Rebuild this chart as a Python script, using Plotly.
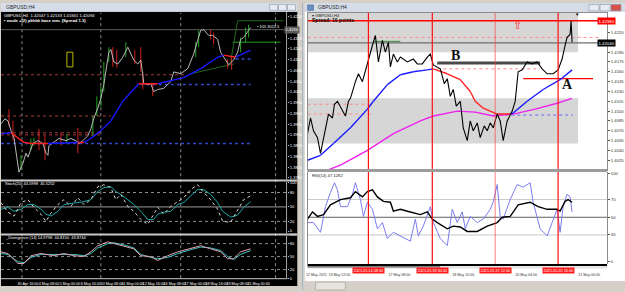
import plotly.graph_objects as go

W, H = 625, 292

# ======================= LEFT CHART : GBPUSD,H4 =======================
left_bar = [0, 4, 7, 10, 13, 17, 18, 22, 25, 27, 32, 37, 42, 45, 47, 48, 53, 58, 65, 70,
            75, 78, 82, 87, 90, 93, 97, 100, 103, 107, 108, 110, 113, 117, 122, 127, 130, 133, 137, 140,
            142, 143, 147, 150, 153, 157, 163, 170, 173, 180, 187, 190, 193, 197, 200, 203, 208, 212, 217, 220,
            223, 228, 233, 237, 240, 243, 248, 250]
left_close = [1.3931, 1.3945, 1.3939, 1.3912, 1.3892, 1.3821, 1.3796, 1.3821, 1.3849, 1.3838,
              1.3876, 1.3884, 1.3876, 1.3849, 1.3843, 1.3870, 1.3879, 1.3890, 1.3884, 1.3890,
              1.3884, 1.3876, 1.3884, 1.3898, 1.3917, 1.3947, 1.3975, 1.4002, 1.4041, 1.4104,
              1.4131, 1.4139, 1.4104, 1.4098, 1.4117, 1.4145, 1.4126, 1.4109, 1.4098, 1.4109,
              1.4068, 1.4043, 1.4041, 1.4043, 1.4021, 1.4027, 1.4030, 1.4049, 1.4076, 1.4071,
              1.4085, 1.4104, 1.4126, 1.4164, 1.4192, 1.4194, 1.4178, 1.4178, 1.4167, 1.4131,
              1.4117, 1.4096, 1.4109, 1.4131, 1.4167, 1.4172, 1.4192, 1.4200]

left_wick_bar = [8, 12, 38, 44, 60, 77, 112, 116, 134, 140, 142, 152, 210, 213, 227, 231,
                 20, 30, 33, 66, 92, 96, 100, 103, 108, 125, 195, 198, 240, 245, 248]
left_wick_high = [1.3972, 1.3939, 1.3917, 1.3898, 1.3906, 1.3920, 1.4145, 1.4137, 1.4137, 1.4145, 1.4076, 1.4043, 1.4194, 1.4186, 1.4112, 1.4117,
                  1.3843, 1.3890, 1.3892, 1.3903, 1.3953, 1.4008, 1.4035, 1.4104, 1.4145, 1.4159, 1.4159, 1.4192, 1.4172, 1.4200, 1.4208]
left_wick_low = [1.3925, 1.3884, 1.3857, 1.3829, 1.3870, 1.3849, 1.4090, 1.4087, 1.4098, 1.4076, 1.4027, 1.4008, 1.4167, 1.4153, 1.4085, 1.4082,
                 1.3802, 1.3857, 1.3870, 1.3876, 1.3898, 1.3953, 1.3980, 1.4021, 1.4104, 1.4117, 1.4117, 1.4145, 1.4131, 1.4159, 1.4172]
left_wick_dir = ['down'] * 16 + ['up'] * 15

left_ma_bar = [0, 10, 23, 30, 47, 77, 83, 90, 100, 110, 122, 138, 157, 183, 200, 217, 223, 235, 250]
left_ma = [1.3903, 1.3906, 1.3879, 1.3876, 1.3876, 1.3879, 1.3879, 1.3890, 1.3912, 1.3939,
           1.3994, 1.4043, 1.4043, 1.4060, 1.4085, 1.4117, 1.4123, 1.4117, 1.4137]
left_ma_trend = ['up', 'down', 'down', 'down', 'up', 'down', 'up', 'up', 'up', 'up', 'up', 'down',
                 'up', 'up', 'up', 'up', 'down', 'up']

left_level_price = [1.4194, 1.4068, 1.3953, 1.3906, 1.3900, 1.3876, 1.4041, 1.4112, 1.4159, 1.4219]
left_level_x0 = [0, 0, 0, 0, 0, 0, 140, 235, 232, 237]
left_level_x1 = [286, 185, 110, 100, 100, 250, 250, 250, 280, 283]
left_level_kind = ['current', 'sr', 'sr', 'sr', 'sr', 'ma_dot', 'ma_dot', 'ma_dot', 'target', 'trend']
left_trend_x = [[190, 233], [230, 237]]
left_trend_y = [[1.4071, 1.4098], [1.4104, 1.4219]]
left_box_x = [66, 72]
left_box_y = [1.4090, 1.4131]
left_day_sep = [21, 100, 180, 275]

left_price_ticks = [1.3780, 1.3810, 1.3840, 1.3870, 1.3900, 1.3930, 1.3960, 1.3990,
                    1.4020, 1.4050, 1.4080, 1.4110, 1.4140, 1.4170, 1.4230]

stoch_bar = [0, 7, 13, 20, 27, 33, 40, 45, 50, 57, 63, 70, 77, 83, 90, 97, 103, 110, 115, 120,
             127, 133, 140, 147, 153, 157, 163, 170, 177, 183, 190, 197, 203, 210, 217, 222, 230, 237, 243, 250]
stoch_k = [59, 39, 31, 59, 65, 49, 35, 20, 37, 55, 65, 51, 69, 55, 65, 92, 96, 90, 65, 76,
           51, 41, 24, 14, 35, 49, 35, 51, 61, 69, 86, 96, 80, 65, 45, 20, 18, 45, 65, 73]
stoch_d = [45, 49, 41, 45, 55, 55, 45, 35, 31, 41, 55, 57, 59, 61, 65, 82, 90, 92, 82, 76,
           65, 55, 41, 24, 24, 35, 39, 41, 55, 59, 73, 86, 86, 76, 59, 41, 29, 33, 49, 61]

div_bar = [0, 7, 17, 23, 30, 40, 53, 63, 73, 83, 90, 97, 107, 113, 123, 133, 140, 150, 157, 167,
           177, 190, 200, 210, 220, 227, 233, 240, 250]
div_a = [61, 57, 34, 34, 52, 57, 52, 57, 52, 50, 61, 75, 84, 80, 75, 68, 52, 50, 41, 52,
         61, 68, 75, 68, 61, 45, 45, 61, 68]
div_b = [57, 55, 38, 36, 48, 55, 55, 55, 55, 52, 57, 70, 80, 82, 77, 70, 55, 48, 45, 48,
         57, 66, 72, 70, 64, 50, 43, 55, 64]

left_time_pos = [6, 27, 48, 69, 90, 111, 132, 153, 174, 195, 216, 237, 258]
left_time_text = ['22 Apr 2021', '30 Apr 16:00', '4 May 08:00', '5 May 00:00', '6 May 16:00',
                  '10 May 08:00', '11 May 00:00', '12 May 16:00', '14 May 08:00', '17 May 00:00',
                  '18 May 16:00', '19 May 08:00', '21 May 00:00']

# ======================= RIGHT CHART : GBPUSD,H1 =======================
right_bar = [307, 310, 313, 317, 320, 322, 325, 328, 332, 334, 337, 341, 345, 348, 350, 355, 358, 362, 365, 368,
             372, 375, 378, 382, 385, 388, 390, 393, 397, 400, 407, 413, 417, 422, 427, 430, 433, 440, 444, 447,
             450, 453, 456, 460, 463, 467, 470, 473, 477, 480, 484, 487, 490, 493, 497, 500, 503, 507, 512, 515,
             518, 522, 527, 532, 537, 542, 547, 553, 558, 562, 565, 567, 570, 571, 572]
right_close = [1.40655, 1.40895, 1.4070, 1.40595, 1.40355, 1.40505, 1.40745, 1.40955, 1.40895, 1.41105,
               1.4115, 1.41045, 1.40925, 1.4115, 1.41195, 1.4145, 1.4157, 1.4145, 1.4160, 1.4178,
               1.42005, 1.42155, 1.4175, 1.4208, 1.4190, 1.4205, 1.41675, 1.4187, 1.4175, 1.41825,
               1.4175, 1.41795, 1.4172, 1.4172, 1.41825, 1.4187, 1.41705, 1.41645, 1.4142, 1.41495,
               1.41225, 1.4133, 1.41075, 1.4115, 1.40745, 1.4055, 1.4085, 1.4070, 1.4082, 1.40595,
               1.40775, 1.4070, 1.4082, 1.40745, 1.40955, 1.4085, 1.4055, 1.4085, 1.4100, 1.4115,
               1.4160, 1.4163, 1.4175, 1.4172, 1.4175, 1.41645, 1.4157, 1.4157, 1.4163, 1.41795,
               1.42005, 1.42125, 1.4217, 1.4238, 1.4205]

right_ma_bar = [307, 320, 333, 350, 367, 373, 387, 400, 413, 427, 433, 447, 460, 470, 475, 483,
                490, 497, 510, 513, 527, 543, 560, 572]
right_ma = [1.4025, 1.40325, 1.40505, 1.40745, 1.4103, 1.4115, 1.41405, 1.41555, 1.4160, 1.4163,
            1.41645, 1.4157, 1.4148, 1.4130, 1.4115, 1.41045, 1.4100, 1.40955, 1.40955, 1.4097,
            1.4115, 1.4133, 1.4148, 1.4163]
right_ma_trend = ['up'] * 10 + ['down'] * 8 + ['up'] * 5

right_ma2_bar = [327, 340, 367, 393, 420, 433, 457, 475, 493, 513, 535, 557, 572]
right_ma2 = [1.4010, 1.40175, 1.4040, 1.40655, 1.4085, 1.40925, 1.4100, 1.40985, 1.40925,
             1.40955, 1.4103, 1.4112, 1.41195]

right_level_price = [1.4238, 1.4204, 1.41735, 1.41495, 1.42065, 1.42125, 1.41645, 1.41105, 1.40955, 1.4094]
right_level_x0 = [307, 307, 437, 523, 373, 307, 437, 307, 307, 493]
right_level_x1 = [607, 607, 540, 593, 400, 600, 540, 370, 370, 573]
right_level_kind = ['high', 'current', 'B', 'A', 'target', 'sr_dot', 'sr_dot', 'sr_dot', 'sr_dot', 'ma_dot']

right_band_lo = [1.4190, 1.40505]
right_band_hi = [1.4250, 1.41195]
right_band_x = [307, 578]

right_marks = ['B', 'A']
right_marks_x = [455, 567]
right_marks_y = [1.41855, 1.4141]
right_arrow_xy = [517, 1.4230]

right_price_ticks = [1.4025, 1.4040, 1.4055, 1.4070, 1.4085, 1.4100, 1.4115, 1.4130, 1.4145,
                     1.4160, 1.4175, 1.4190, 1.4220]

right_event_x = [368, 432, 495, 558]
right_event_text = ['2021.05.14 08:00', '2021.05.18 00:00', '2021.05.19 12:00', '2021.05.20 16:00']
right_event_faded = [False, False, True, False]

rsi_bar = [307, 312, 317, 323, 330, 340, 350, 355, 362, 367, 372, 377, 383, 390, 393, 400, 410, 420, 427, 432,
           437, 447, 453, 460, 467, 477, 487, 497, 502, 510, 518, 530, 538, 547, 557, 560, 565, 568, 572]
rsi_slow = [48, 56, 51, 53, 64, 70, 72, 79, 73, 79, 81, 73, 68, 67, 57, 59, 56, 53, 56, 48,
            44, 37, 40, 39, 34, 34, 40, 44, 50, 51, 64, 67, 62, 59, 59, 57, 68, 70, 67]
rsi_fast_bar = [307, 313, 320, 325, 330, 334, 337, 340, 347, 352, 355, 360, 363, 367, 372, 377, 382, 387, 393, 400,
                410, 415, 418, 423, 430, 433, 440, 447, 452, 457, 462, 465, 470, 477, 483, 490, 493, 497, 500, 503,
                510, 517, 523, 530, 533, 540, 547, 552, 557, 560, 563, 567, 570, 572]
rsi_fast = [44, 44, 33, 62, 78, 89, 81, 62, 62, 76, 89, 70, 51, 67, 59, 37, 44, 26, 33, 29,
            23, 48, 29, 40, 62, 44, 26, 18, 59, 44, 56, 37, 51, 44, 48, 59, 67, 87, 51, 48,
            70, 87, 84, 89, 67, 37, 29, 44, 59, 33, 62, 76, 73, 56]

right_time_pos = [316, 339, 399, 463, 526, 589]
right_time_text = ['12 May 2021', '13 May 12:00', '17 May 08:00', '18 May 20:00',
                   '20 May 04:00', '21 May 00:00']

# ======================= helpers =======================
def PX(x):
    return x / W


def PY(y):
    return 1 - y / H


def segments(xs, ys, states, want):
    ox, oy = [], []
    for i, s in enumerate(states):
        if s == want:
            ox += [xs[i], xs[i + 1], None]
            oy += [ys[i], ys[i + 1], None]
    return ox, oy


def wicks(bars, hi, lo, dirs, want):
    ox, oy = [], []
    for b, h, l, d in zip(bars, hi, lo, dirs):
        if d == want:
            ox += [b, b, None]
            oy += [l, h, None]
    return ox, oy


FONT = 'Liberation Sans, Arial, sans-serif'
fig = go.Figure()


def line(x, y, xa, ya, color, width=1, dash='solid'):
    fig.add_trace(go.Scatter(x=x, y=y, xaxis=xa, yaxis=ya, mode='lines', hoverinfo='skip',
                             line=dict(color=color, width=width, dash=dash), showlegend=False))

# ----- left main -----
lstyle = {'current': ('#5c5c5c', 1, 'solid'), 'sr': ('#a83a3a', 1, 'dot'),
          'ma_dot': ('#3048c8', 1.6, 'dot'), 'target': ('#22a022', 1, 'solid'),
          'trend': ('#1f6a1f', 1, 'solid')}
for p, a, b, k in zip(left_level_price, left_level_x0, left_level_x1, left_level_kind):
    c, w, d = lstyle[k]
    line([a, b], [p, p], 'x', 'y', c, w, d)
for tx, ty in zip(left_trend_x, left_trend_y):
    line(tx, ty, 'x', 'y', '#1f6a1f', 1)

wx, wy = wicks(left_wick_bar, left_wick_high, left_wick_low, left_wick_dir, 'up')
line(wx, wy, 'x', 'y', '#1fa01f', 1)
wx, wy = wicks(left_wick_bar, left_wick_high, left_wick_low, left_wick_dir, 'down')
line(wx, wy, 'x', 'y', '#d42020', 1)
line(left_bar, left_close, 'x', 'y', '#b8b8b8', 1)
mx, my = segments(left_ma_bar, left_ma, left_ma_trend, 'up')
line(mx, my, 'x', 'y', '#1a1aff', 1.4)
mx, my = segments(left_ma_bar, left_ma, left_ma_trend, 'down')
line(mx, my, 'x', 'y', '#ff2020', 1.4)

# ----- left indicators -----
for lv, dsh, col in [(80, 'dot', '#909090'), (50, 'solid', '#9a9a9a'), (20, 'dot', '#909090')]:
    line([0, 286], [lv, lv], 'x2', 'y2', col, 1, dsh)
line(stoch_bar, stoch_d, 'x2', 'y2', '#1fa5a5', 1)
line(stoch_bar, stoch_k, 'x2', 'y2', '#d8d8d8', 1, 'dot')
for lv in [80, 50, 20]:
    line([0, 286], [lv, lv], 'x3', 'y3', '#8a8a8a', 1, 'dot')
line(div_bar, div_b, 'x3', 'y3', '#3fc4c4', 1)
line(div_bar, div_a, 'x3', 'y3', '#e0a0b0', 1)

# ----- right main -----
rstyle = {'high': ('#ff0000', 1.5, 'solid'), 'current': ('#6e6e6e', 1.2, 'solid'),
          'B': ('#4a4a4a', 3, 'solid'), 'A': ('#ff0000', 1.3, 'solid'),
          'target': ('#3a8a3a', 1, 'solid'), 'sr_dot': ('#ff8a8a', 1, 'dot'),
          'ma_dot': ('#6a6aff', 1, 'dot')}
for p, a, b, k in zip(right_level_price, right_level_x0, right_level_x1, right_level_kind):
    c, w, d = rstyle[k]
    line([a, b], [p, p], 'x4', 'y4', c, w, d)
line(right_ma2_bar, right_ma2, 'x4', 'y4', '#ee22ee', 1.4)
mx, my = segments(right_ma_bar, right_ma, right_ma_trend, 'up')
line(mx, my, 'x4', 'y4', '#1a1aff', 1.4)
mx, my = segments(right_ma_bar, right_ma, right_ma_trend, 'down')
line(mx, my, 'x4', 'y4', '#ff2020', 1.4)
line(right_bar, right_close, 'x4', 'y4', '#000000', 1.1)

# ----- RSI -----
for lv, col in [(70, '#c8c8c8'), (50, '#606060'), (30, '#c8c8c8')]:
    line([307, 607], [lv, lv], 'x5', 'y5', col, 1)
line(rsi_fast_bar, rsi_fast, 'x5', 'y5', '#7b7bf0', 1)
line(rsi_bar, rsi_slow, 'x5', 'y5', '#000000', 1.4)

# ======================= shapes (window chrome & overlays) =======================
shapes = []


def rect(x0, y0, x1, y1, fill, lc=None, lw=0, layer='below'):
    shapes.append(dict(type='rect', xref='paper', yref='paper', x0=PX(x0), x1=PX(x1),
                       y0=PY(y1), y1=PY(y0), fillcolor=fill, layer=layer,
                       line=dict(color=lc or fill, width=lw)))


def hline(x0, x1, y, color, width=1, dash='solid', layer='above'):
    shapes.append(dict(type='line', xref='paper', yref='paper', x0=PX(x0), x1=PX(x1),
                       y0=PY(y), y1=PY(y), layer=layer, line=dict(color=color, width=width, dash=dash)))


rect(0, 0, 625, 292, '#d4d0c8')
rect(0, 9, 297, 288, '#000000')
rect(0, 0, 297, 9, '#d5dde8')
rect(304, 9, 625, 283, '#ffffff')
rect(304, 0, 625, 9, '#d5dde8')
rect(297, 0, 304, 292, '#d4d0c8')
shapes.append(dict(type='line', xref='paper', yref='paper', x0=PX(302), x1=PX(302), y0=0, y1=1,
                   line=dict(color='#9fb4cf', width=1), layer='below'))
# title bar buttons
for bx in [269, 278, 287]:
    rect(bx, 1.5, bx + 8, 7.5, '#e8ecf2', '#8a96a8', 0.6, 'above')
for bx, col in [(589, '#e8ecf2'), (600, '#e8ecf2'), (611, '#d8504a')]:
    rect(bx, 1.5, bx + 10, 8, col, '#8a96a8', 0.6, 'above')

# left panel separators
hline(0, 297, 180.5, '#c8c8c8', 2)
hline(0, 297, 235.5, '#c8c8c8', 2)
hline(0, 287, 280.5, '#c8c8c8', 1)
shapes.append(dict(type='line', xref='paper', yref='paper', x0=PX(286), x1=PX(286), y0=PY(280), y1=PY(9),
                   line=dict(color='#a0a0a0', width=1)))
for d in left_day_sep:
    shapes.append(dict(type='line', xref='x', yref='paper', x0=d, x1=d, y0=PY(280), y1=PY(10),
                       line=dict(color='#8a8a8a', width=1, dash='dot'), layer='below'))
shapes.append(dict(type='rect', xref='x', yref='y', x0=left_box_x[0], x1=left_box_x[1],
                   y0=left_box_y[0], y1=left_box_y[1], line=dict(color='#b8b800', width=1)))

# right panel
for lo, hi in zip(right_band_lo, right_band_hi):
    shapes.append(dict(type='rect', xref='x4', yref='y4', x0=right_band_x[0], x1=right_band_x[1],
                       y0=lo, y1=hi, fillcolor='#d6d6d6', line=dict(width=0), layer='below'))
for ex, fd in zip(right_event_x, right_event_faded):
    shapes.append(dict(type='line', xref='x4', yref='paper', x0=ex, x1=ex, y0=PY(266), y1=PY(10),
                       line=dict(color='rgba(255,60,60,0.55)' if fd else '#ff1010', width=1.2)))
hline(307, 607, 170.5, '#9c9c9c', 3)
hline(307, 607, 266.5, '#000000', 2)
rect(307, 267.5, 607, 270, '#e4e4e4', None, 0, 'above')
hline(307, 440, 268.5, '#404040', 1)
rect(304, 283, 625, 292, '#d4d0c8', None, 0, 'above')
rect(315, 284, 345, 292, '#e6e3dc', '#a09c94', 0.6, 'above')
rect(0, 288, 297, 292, '#d4d0c8', None, 0, 'above')

# ======================= annotations =======================
ann = []


def txt(x, y, s, size=4.5, color='#ffffff', xanchor='left', bold=False, family=FONT, **kw):
    ann.append(dict(x=PX(x), y=PY(y), xref='paper', yref='paper', text=('<b>%s</b>' % s) if bold else s,
                    showarrow=False, xanchor=xanchor, yanchor='middle',
                    font=dict(size=size, color=color, family=family), **kw))


txt(3, 4.5, 'GBPUSD,H4', 5, '#2a2a2a')
txt(316, 4.5, 'GBPUSD,H4', 5, '#2a2a2a')
rect(307, 2, 313, 7.5, '#6b8fc0', '#3a5a8a', 0.5, 'above')
txt(1, 13, 'GBPUSD,H4  1.42047 1.42133 1.41941 1.42094', 4.2, '#ffffff')
txt(1, 18, '▪ mode +(2) pkhbk base mm. (Spread 1.3)', 4.2, '#ffffff', bold=True)
txt(2, 184, 'Stoch(20) 44.5998  45.5252', 4, '#ffffff')
txt(2, 239, '_Divergence (14) 14.9798  44.8150  43.8744', 4, '#ffffff')
txt(309, 12.5, '▾ GBPUSD,H4', 4.2, '#222222')
txt(309, 17.5, 'Spread: 10 points', 5, '#000000', bold=True)
txt(309, 176, 'RSI(14) 47.1282', 4.2, '#222222')
txt(577, 11.5, '▼', 4.5, '#000000', xanchor='center')

# price-scale boxes
ann.append(dict(x=PX(616), y=right_level_price[0], xref='paper', yref='y4', text='1.42380', showarrow=False,
                bgcolor='#ff0000', font=dict(size=4.3, color='#ffffff', family=FONT), borderpad=0.5))
ann.append(dict(x=PX(616), y=right_level_price[1], xref='paper', yref='y4', text='1.42040', showarrow=False,
                bgcolor='#000000', font=dict(size=4.3, color='#ffffff', family=FONT), borderpad=0.5))
ann.append(dict(x=PX(291.5), y=left_level_price[0], xref='paper', yref='y', text='1.4194', showarrow=False,
                bgcolor='#5c5c5c', font=dict(size=4.1, color='#ffffff', family=FONT), borderpad=0.4))
ann.append(dict(x=268, y=left_level_price[0], xref='x', yref='y', text='• 105 3011.5', showarrow=False,
                font=dict(size=4, color='#ffffff', family=FONT), yshift=3))

for m, mx_, my_ in zip(right_marks, right_marks_x, right_marks_y):
    ann.append(dict(x=mx_, y=my_, xref='x4', yref='y4', text='<b>%s</b>' % m, showarrow=False,
                    font=dict(size=14, color='#111111', family='Liberation Serif, DejaVu Serif, serif')))
ann.append(dict(x=right_arrow_xy[0], y=right_arrow_xy[1], xref='x4', yref='y4', text='⇧', showarrow=False,
                font=dict(size=11, color='#ff2020', family='DejaVu Sans')))
for ex, et in zip(right_event_x, right_event_text):
    ann.append(dict(x=ex, y=PY(275.5), xref='x4', yref='paper', text=et, showarrow=False,
                    bgcolor='#ff1a1a', font=dict(size=3.8, color='#ffffff', family=FONT), borderpad=0.6))

# ======================= axes =======================
noax = dict(showgrid=False, zeroline=False, showticklabels=False, ticks='', showline=False, fixedrange=True)
ldom = [0, PX(286)]
rdom = [PX(307), PX(607)]

layout = dict(
    width=W, height=H, margin=dict(l=0, r=0, t=0, b=0), autosize=False,
    paper_bgcolor='#d4d0c8', plot_bgcolor='rgba(0,0,0,0)', showlegend=False,
    shapes=shapes, annotations=ann,
    xaxis=dict(noax, domain=ldom, range=[0, 286], anchor='y'),
    xaxis2=dict(noax, domain=ldom, range=[0, 286], anchor='y2'),
    xaxis3=dict(noax, domain=ldom, range=[0, 286], anchor='y3', showticklabels=True,
                tickvals=left_time_pos, ticktext=left_time_text, ticks='outside', ticklen=1,
                tickangle=0, tickcolor='rgba(0,0,0,0)',
                tickfont=dict(size=3.7, color='#ffffff', family=FONT)),
    xaxis4=dict(noax, domain=rdom, range=[307, 607], anchor='y4', showline=True, mirror=True,
                linecolor='#8c8c8c', linewidth=1),
    xaxis5=dict(noax, domain=rdom, range=[307, 607], anchor='y5', showticklabels=True,
                tickvals=right_time_pos, ticktext=right_time_text, ticks='outside', ticklen=6,
                tickangle=0, tickcolor='rgba(0,0,0,0)',
                tickfont=dict(size=3.6, color='#333333', family=FONT)),
    yaxis=dict(noax, domain=[PY(180), PY(10)], range=[1.37743, 1.4241], anchor='x', side='right',
               showticklabels=True, tickvals=left_price_ticks, ticktext=['%.4f' % v for v in left_price_ticks],
               ticks='outside', ticklen=1.5, tickcolor='#c0c0c0',
               tickfont=dict(size=4, color='#ffffff', family=FONT)),
    yaxis2=dict(noax, domain=[PY(235), PY(181)], range=[-6.1, 104], anchor='x2', side='right',
                showticklabels=True, tickvals=[100, 80, 50, 20, 0], ticks='outside', ticklen=1.5,
                tickcolor='#c0c0c0', tickfont=dict(size=4, color='#ffffff', family=FONT)),
    yaxis3=dict(noax, domain=[PY(280), PY(236)], range=[0, 100], anchor='x3', side='right',
                showticklabels=True, tickvals=[100, 80, 50, 20, 0], ticks='outside', ticklen=1.5,
                tickcolor='#c0c0c0', tickfont=dict(size=4, color='#ffffff', family=FONT)),
    yaxis4=dict(noax, domain=[PY(170), PY(10)], range=[1.4010, 1.4250], anchor='x4', side='right',
                showticklabels=True, tickvals=right_price_ticks,
                ticktext=['%.4f' % v for v in right_price_ticks], ticks='outside', ticklen=2,
                tickcolor='#555555', showline=True, mirror=True, linecolor='#8c8c8c', linewidth=1,
                tickfont=dict(size=4.2, color='#333333', family=FONT)),
    yaxis5=dict(noax, domain=[PY(266), PY(172)], range=[-3.3, 101.1], anchor='x5', side='right',
                showticklabels=True, tickvals=[100, 70, 50, 30, 0], ticks='outside', ticklen=2,
                tickcolor='#555555', showline=True, mirror=True, linecolor='#8c8c8c', linewidth=1,
                tickfont=dict(size=4.2, color='#333333', family=FONT)),
)
fig.update_layout(**layout)
fig.write_html('out.html')
